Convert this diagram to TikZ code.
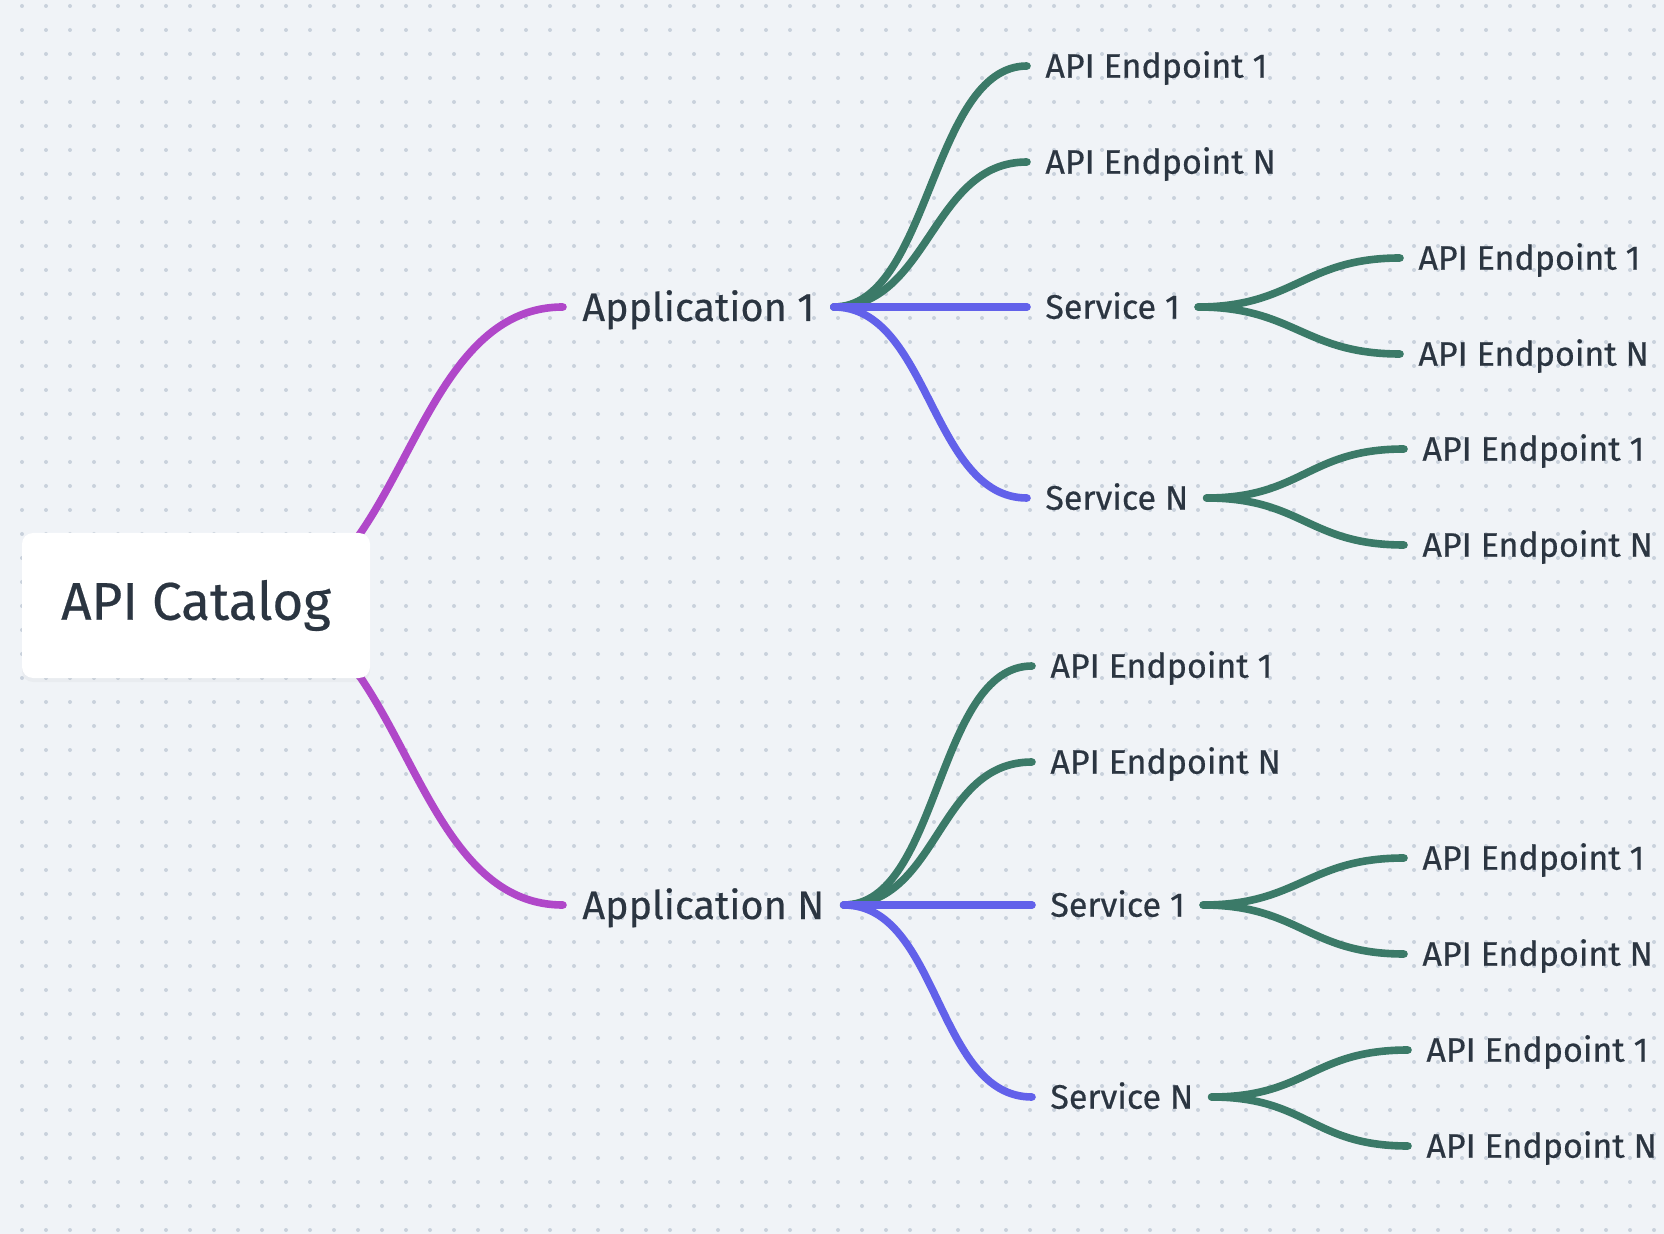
\documentclass[tikz,border=0pt]{standalone}
\usepackage{fontspec}
\setmainfont{Fira Sans}[FakeBold=0.4]
\usepackage{tikz}
\usetikzlibrary{shadows}

\definecolor{bgc}{HTML}{F0F3F7}
\definecolor{dotc}{HTML}{C9D1DC}
\definecolor{inkc}{HTML}{2B3541}
\definecolor{appc}{HTML}{B047C9}
\definecolor{svcc}{HTML}{6261EA}
\definecolor{epc}{HTML}{3B7A68}

\tikzset{
	root/.style={rectangle, rounded corners=5.5pt, fill=white, minimum width=174pt, minimum height=72.5pt,
		text=inkc, font=\fontsize{26.5}{31}\selectfont,
		drop shadow={opacity=0.06, shadow xshift=0pt, shadow yshift=-2pt}},
	app/.style={anchor=west, inner xsep=9.5pt, inner ysep=0pt, text height=14pt, text depth=0pt,
		text=inkc, font=\fontsize{19.8}{24}\selectfont},
	item/.style={anchor=west, inner xsep=9pt, inner ysep=0pt, text height=11.7pt, text depth=0pt,
		text=inkc, font=\fontsize{17}{20}\selectfont},
	branch/.style={line width=3.8pt, line cap=round},
}

\begin{document}
\begin{tikzpicture}[x=0.5pt, y=-0.5pt]
	% background with dots
	\fill[bgc] (0,0) rectangle (1664,1234);
	\useasboundingbox (0,0) rectangle (1664,1234);
	\fill[dotc] \foreach \x in {22,46,...,1654} {\foreach \y in {6,30,...,1230} {(\x,\y) circle (1pt)}};

	\coordinate (hub) at (247,605);
	\node[app] (app1) at (563,307) {Application 1};
	\node[app] (appn) at (563,905) {Application N};

	\node[item] (a1e1) at (1027,66) {API Endpoint 1};
	\node[item] (a1en) at (1027,162) {API Endpoint N};
	\node[item] (a1s1) at (1027,307) {Service 1};
	\node[item] (a1sn) at (1027,498) {Service N};
	\node[item] (a1s1e1) at (1400,258) {API Endpoint 1};
	\node[item] (a1s1en) at (1400,354) {API Endpoint N};
	\node[item] (a1sne1) at (1404,449) {API Endpoint 1};
	\node[item] (a1snen) at (1404,545) {API Endpoint N};

	\node[item] (ane1) at (1032,666) {API Endpoint 1};
	\node[item] (anen) at (1032,762) {API Endpoint N};
	\node[item] (ans1) at (1032,905) {Service 1};
	\node[item] (ansn) at (1032,1097) {Service N};
	\node[item] (ans1e1) at (1404,858) {API Endpoint 1};
	\node[item] (ans1en) at (1404,954) {API Endpoint N};
	\node[item] (ansne1) at (1408,1050) {API Endpoint 1};
	\node[item] (ansnen) at (1408,1146) {API Endpoint N};

	% branches
	\foreach \a in {app1, appn} {
		\draw[branch, appc] (hub) .. controls +(158,0) and +(-158,0) .. (\a.west);
	}
	\foreach \a/\b in {app1/a1e1, app1/a1en, appn/ane1, appn/anen,
			a1s1/a1s1e1, a1s1/a1s1en, a1sn/a1sne1, a1sn/a1snen,
			ans1/ans1e1, ans1/ans1en, ansn/ansne1, ansn/ansnen} {
		\draw[branch, epc] (\a.east) .. controls +(96,0) and +(-96,0) .. (\b.west);
	}
	\foreach \a/\b in {app1/a1s1, app1/a1sn, appn/ans1, appn/ansn} {
		\draw[branch, svcc] (\a.east) .. controls +(96,0) and +(-96,0) .. (\b.west);
	}

	\node[root] (cat) at (196,605.5) {API Catalog};
\end{tikzpicture}
\end{document}
